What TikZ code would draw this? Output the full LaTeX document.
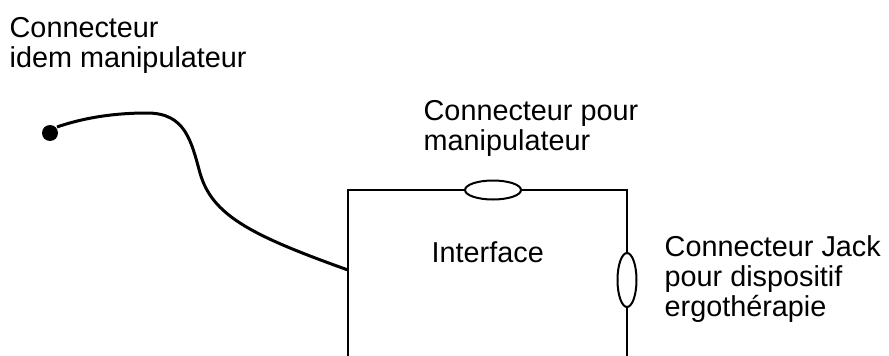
\documentclass[tikz,border=0pt]{standalone}
\usepackage{fontspec}
\setmainfont{Liberation Sans}
\usetikzlibrary{shapes.geometric}
\tikzset{
  lbl/.style={anchor=base west, inner sep=0pt, font=\fontsize{28.8}{30}\selectfont},
  wire/.style={line width=2pt},
  cable/.style={line width=3pt},
  jack/.style={ellipse, draw, line width=2pt, fill=white, inner sep=0pt},
}
\newcommand{\lines}[1]{\begin{tabular}[t]{@{}l@{}}#1\end{tabular}}
\begin{document}
\begin{tikzpicture}[x=1pt,y=-1pt]
  \useasboundingbox (0,0) rectangle (889,356);
  % interface housing, open at the bottom
  \coordinate (bl) at (348,356);
  \coordinate (tl) at (348,190);
  \coordinate (tr) at (627,190);
  \coordinate (br) at (627,356);
  \coordinate (cin) at (348,270);
  \draw[wire] (bl) -- (tl) -- (tr) -- (br);
  % connectors on the housing
  \node[jack, minimum width=56pt, minimum height=19pt] (cmanip) at (493,190) {};
  \node[jack, minimum width=19pt, minimum height=54pt] (cjack) at (627,280) {};
  % cable with its plug
  \node[circle, fill=black, inner sep=0pt, minimum size=16pt] (plug) at (50,133) {};
  \draw[cable] (plug.center) ++(7,-6) coordinate (p0)
    .. controls (80,119) and (110,113) .. (147,113)
    .. controls (185,113) and (191,140) .. (200,173)
    .. controls (212,215) and (250,235) .. (cin);
  % labels
  \node[lbl] (tplug) at (9.5,37) {\lines{Connecteur\\idem manipulateur}};
  \node[lbl] (tmanip) at (423.5,120) {\lines{Connecteur pour\\manipulateur}};
  \node[lbl] (tjack) at (664.5,256) {\lines{Connecteur Jack\\pour dispositif\\ergothérapie}};
  \node[lbl] (tint) at (431.5,262) {Interface};
\end{tikzpicture}
\end{document}
